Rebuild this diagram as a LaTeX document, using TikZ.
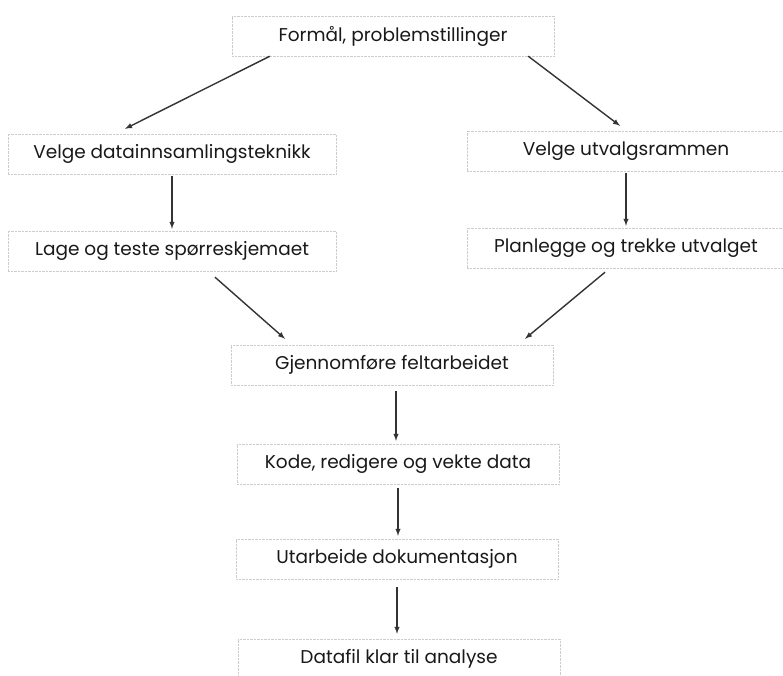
\documentclass[tikz,border=0pt]{standalone}
\usepackage{fontspec}
\setmainfont{Poppins}
\usetikzlibrary{positioning}
\usetikzlibrary{arrows}

\begin{document}
\begin{tikzpicture}[
    x=1pt, y=-1pt,
    >=latex,
    stepbox/.style={draw=gray!40, densely dotted, fill=white, text=black!90,
        minimum width=322pt, minimum height=40pt, inner sep=0pt, font=\fontsize{18.5}{22}\selectfont},
    flow/.style={->, draw=black!80, line width=1.4pt},
]
    \useasboundingbox (0,0) rectangle (783,675);
    %node
    \node[stepbox] (formal) at (393,36) {Formål, problemstillinger};
    \node[stepbox, minimum width=328pt] (teknikk) at (172,154) {Velge datainnsamlingsteknikk};
    \node[stepbox, minimum width=318pt] (ramme) at (626,151) {Velge utvalgsrammen};
    \node[stepbox, minimum width=328pt] (skjema) at (172,251) {Lage og teste spørreskjemaet};
    \node[stepbox, minimum width=318pt] (utvalg) at (626,248) {Planlegge og trekke utvalget};
    \node[stepbox] (felt) at (392,365) {Gjennomføre feltarbeidet};
    \node[stepbox] (kode) at (398,464) {Kode, redigere og vekte data};
    \node[stepbox] (dok) at (397,559) {Utarbeide dokumentasjon};
    \node[stepbox] (datafil) at (399,659) {Datafil klar til analyse};

    %lines
    \draw[flow] ([xshift=38pt]formal.south west) -- ([xshift=-47pt,yshift=5pt]teknikk.north);
    \draw[flow] ([xshift=-26pt]formal.south east) -- ([xshift=-6pt,yshift=5pt]ramme.north);
    \draw[flow] ([yshift=-2pt]teknikk.south) -- ([yshift=2pt]skjema.north);
    \draw[flow] ([yshift=-2pt]ramme.south) -- ([yshift=2pt]utvalg.north);
    \draw[flow] ([xshift=43pt,yshift=-6pt]skjema.south) -- ([xshift=-107pt,yshift=6pt]felt.north);
    \draw[flow] ([xshift=-21pt,yshift=-4pt]utvalg.south) -- ([xshift=133pt,yshift=6pt]felt.north);
    \draw[flow] ([xshift=4pt,yshift=-6pt]felt.south) -- ([xshift=-2pt,yshift=3pt]kode.north);
    \draw[flow] ([yshift=-4pt]kode.south) -- ([xshift=1pt,yshift=3pt]dok.north);
    \draw[flow] ([yshift=-8pt]dok.south) -- ([xshift=-2pt,yshift=5pt]datafil.north);
\end{tikzpicture}
\end{document}
